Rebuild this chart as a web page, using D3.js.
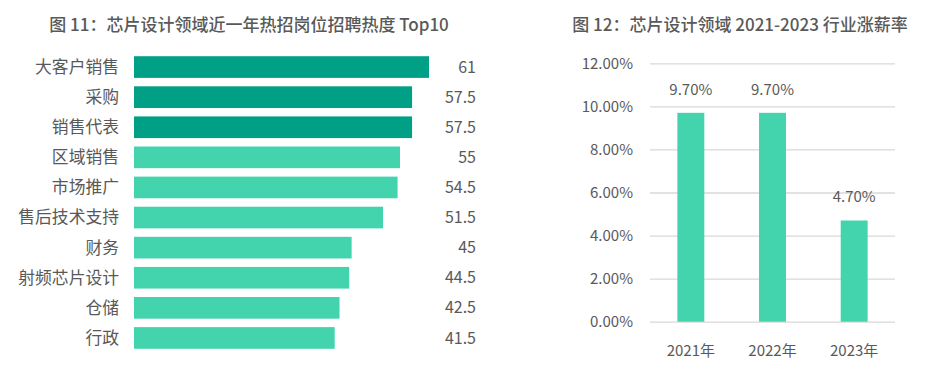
<!DOCTYPE html>
<html>
<head>
<meta charset="utf-8">
<script src="https://cdn.jsdelivr.net/npm/d3@7/dist/d3.min.js"></script>
<style>
  body { margin: 0; background: #fff; }
  svg text { font-family: "Noto Sans CJK SC", "Noto Sans", sans-serif; fill: #595959; }
</style>
</head>
<body>
<svg id="chart" width="930" height="392"></svg>
<script>
// left chart data
const jobs = ["大客户销售", "采购", "销售代表", "区域销售", "市场推广", "售后技术支持", "财务", "射频芯片设计", "仓储", "行政"];
const heat = [61, 57.5, 57.5, 55, 54.5, 51.5, 45, 44.5, 42.5, 41.5];
const topCount = 3; // first three bars darker

// right chart data
const years = ["2021年", "2022年", "2023年"];
const raise = [9.7, 9.7, 4.7];
const raiseTicks = [0, 2, 4, 6, 8, 10, 12];

const darkColor = "#00a086";
const lightColor = "#43d4ae";

const svg = d3.select("#chart");

// ---------- left: horizontal bars ----------
svg.append("text")
  .attr("x", 249).attr("y", 31)
  .attr("text-anchor", "middle")
  .style("font-size", "17px")
  .style("font-weight", "500")
  .text("图 11：芯片设计领域近一年热招岗位招聘热度 Top10");

const left = svg.append("g");

const y = d3.scaleBand()
  .domain(jobs)
  .range([52, 353])
  .paddingInner(0.28)
  .paddingOuter(0.14);

const x = d3.scaleLinear()
  .domain([0, 61])
  .range([134, 429]);

left.selectAll("rect")
  .data(jobs)
  .join("rect")
    .attr("x", x(0))
    .attr("y", d => y(d))
    .attr("width", (d, i) => x(heat[i]) - x(0))
    .attr("height", y.bandwidth())
    .attr("fill", (d, i) => i < topCount ? darkColor : lightColor);

left.selectAll("text.cat")
  .data(jobs)
  .join("text")
    .attr("class", "cat")
    .attr("x", 119)
    .attr("y", d => y(d) + y.bandwidth() / 2)
    .attr("dy", "0.35em")
    .attr("text-anchor", "end")
    .style("font-size", "16.8px")
    .text(d => d);

left.selectAll("text.val")
  .data(heat)
  .join("text")
    .attr("class", "val")
    .attr("x", 476)
    .attr("y", (d, i) => y(jobs[i]) + y.bandwidth() / 2)
    .attr("dy", "0.35em")
    .attr("text-anchor", "end")
    .style("font-size", "16px")
    .text(d => d);

// ---------- right: vertical bars ----------
svg.append("text")
  .attr("x", 740).attr("y", 31)
  .attr("text-anchor", "middle")
  .style("font-size", "17px")
  .style("font-weight", "500")
  .text("图 12：芯片设计领域 2021-2023 行业涨薪率");

const right = svg.append("g");

const yr = d3.scaleLinear()
  .domain([0, 12])
  .range([321.7, 63.3]);

const xr = d3.scaleBand()
  .domain(years)
  .range([650, 895])
  .paddingInner(0.67)
  .paddingOuter(0.335);

// gridlines
right.append("g")
  .attr("transform", "translate(650,0)")
  .call(d3.axisLeft(yr).tickValues(raiseTicks).tickSize(-245).tickFormat(d => d3.format(".2f")(d) + "%"))
  .call(g => g.select(".domain").remove())
  .call(g => g.selectAll(".tick line").attr("stroke", "#d9d9d9").attr("stroke-width", 1.3))
  .call(g => g.selectAll(".tick text")
    .attr("x", -17)
    .style("font-size", "15px")
    .style("fill", "#595959")
    .style("font-family", "\"Noto Sans CJK SC\", sans-serif"));

right.selectAll("rect")
  .data(raise)
  .join("rect")
    .attr("x", (d, i) => xr(years[i]))
    .attr("y", d => yr(d))
    .attr("width", xr.bandwidth())
    .attr("height", d => yr(0) - yr(d))
    .attr("fill", lightColor);

right.selectAll("text.val")
  .data(raise)
  .join("text")
    .attr("class", "val")
    .attr("x", (d, i) => xr(years[i]) + xr.bandwidth() / 2)
    .attr("y", d => yr(d) - 18)
    .attr("text-anchor", "middle")
    .style("font-size", "15px")
    .text(d => d3.format(".2f")(d) + "%");

right.selectAll("text.year")
  .data(years)
  .join("text")
    .attr("class", "year")
    .attr("x", d => xr(d) + xr.bandwidth() / 2)
    .attr("y", 356)
    .attr("text-anchor", "middle")
    .style("font-size", "15px")
    .text(d => d);
</script>
</body>
</html>
